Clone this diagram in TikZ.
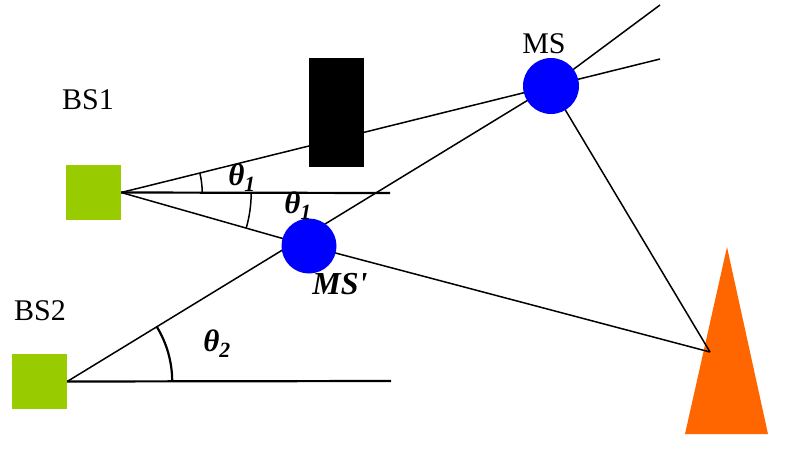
\documentclass[tikz,border=0pt]{standalone}
\usepackage{fontspec}
\setmainfont{Liberation Serif}
\usetikzlibrary{backgrounds}
\definecolor{bsgreen}{HTML}{99CC00}
\definecolor{msblue}{HTML}{0000FF}
\definecolor{conecol}{HTML}{FF6600}
\begin{document}
\begin{tikzpicture}[x=1pt,y=-1pt,
  bsbox/.style={fill=bsgreen,minimum size=55pt,inner sep=0pt,draw=none},
  msdot/.style={circle,fill=msblue,minimum size=56pt,inner sep=0pt,draw=none},
  blockbox/.style={fill=black,minimum width=55pt,minimum height=109pt,inner sep=0pt},
  rayline/.style={line width=1.5pt,black},
  refline/.style={line width=2.2pt,black},
  lab/.style={font=\fontsize{30}{32}\selectfont,inner sep=0pt},
  ang/.style={font=\fontsize{31}{33}\selectfont\bfseries\itshape,inner sep=0pt}]
\useasboundingbox (0,0) rectangle (788,453);
% nodes
\node[bsbox] (bs1) at (93.5,192.5) {};
\node[bsbox] (bs2) at (39.5,381.5) {};
\node[msdot] (ms) at (551,86) {};
\node[msdot,minimum size=55pt] (msp) at (309,246) {};
\node[blockbox] (obs) at (336.5,112.5) {};
\coordinate (tgt) at (710,352);
\coordinate (r1) at (660,5);
\coordinate (r2) at (660,59);
\coordinate (h1) at (390,193);
\coordinate (h2) at (391,381);
\begin{pgfonlayer}{background}
  \fill[white] (0,0) rectangle (788,453);
  \fill[conecol] (727,247) -- (768,434) -- (685,434) -- cycle;
  \draw[rayline] (bs1.east) -- (ms.center);
  \draw[rayline] (bs2.east) -- (ms.center);
  \draw[rayline] (bs1.east) -- (msp.center) -- (tgt);
  \draw[rayline] (ms.center) -- (tgt);
  \draw[rayline] (ms.center) -- (r1);
  \draw[rayline] (ms.center) -- (r2);
  \draw[refline] (bs1.east) -- (h1);
  \draw[refline] (bs2.east) -- (h2);
  \draw[rayline] ([xshift=81pt]bs1.east) arc[start angle=0,end angle=14,radius=81pt];
  \draw[rayline] ([xshift=130pt]bs1.east) arc[start angle=0,end angle=-15.7,radius=130pt];
  \draw[refline] ([xshift=105pt]bs2.east) arc[start angle=0,end angle=31.4,radius=105pt];
\end{pgfonlayer}
% labels
\node[lab] (lbs1) at (88,100) {BS1};
\node[lab] (lbs2) at (40,311) {BS2};
\node[lab] (lms) at (544,44) {MS};
\node[lab,font=\fontsize{32}{34}\selectfont\bfseries\itshape] (lmsp) at (340,284) {MS\textquotesingle};
\node[ang] (t1) at (242,178) {θ\textsubscript{1}};
\node[ang] (t1b) at (298,206) {θ\textsubscript{1}};
\node[ang] (t2) at (217,344) {θ\textsubscript{2}};
\end{tikzpicture}
\end{document}
